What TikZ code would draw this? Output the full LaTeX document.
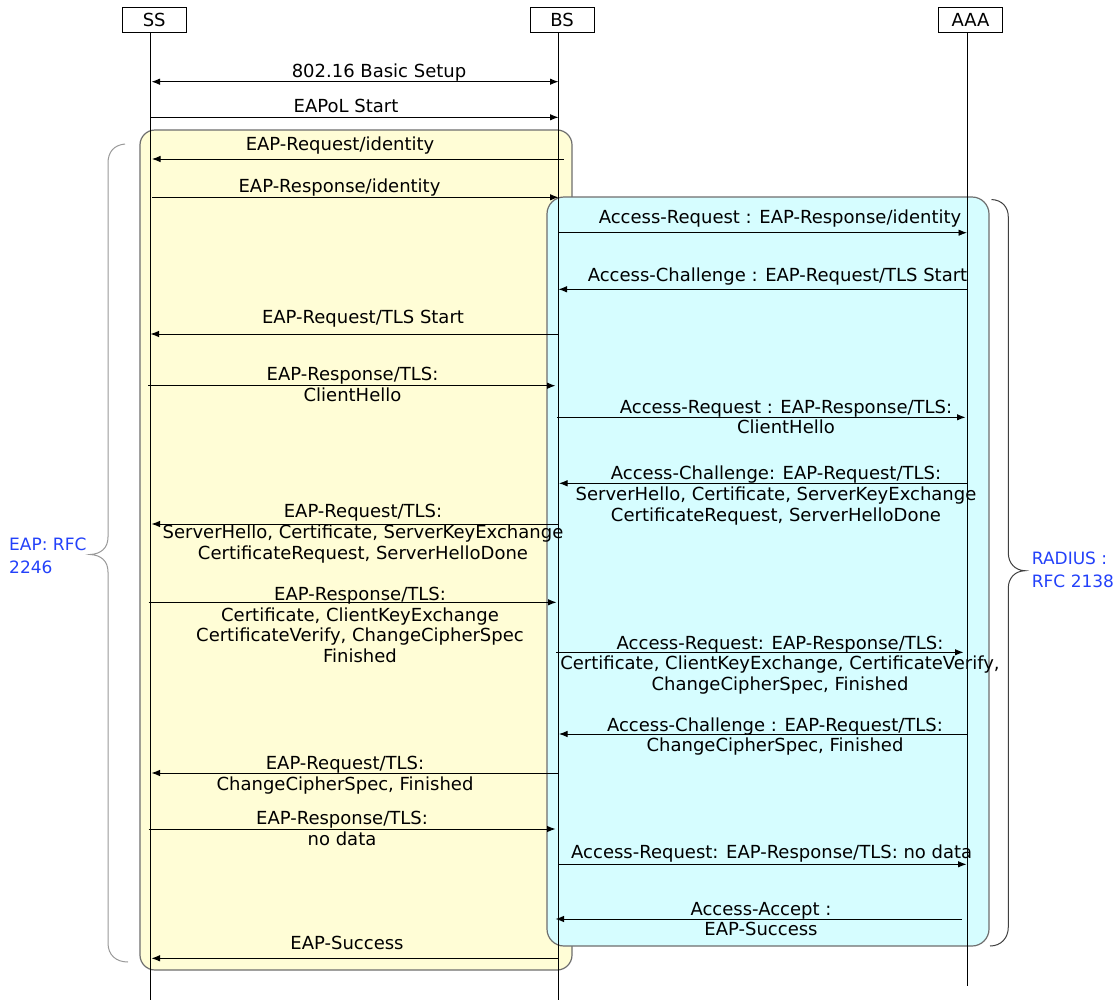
\documentclass[tikz,border=0pt]{standalone}
\usepackage{fontspec}
\setmainfont{DejaVu Sans}
\usetikzlibrary{arrows.meta}

\definecolor{eapfill}{RGB}{255,253,214}
\definecolor{radfill}{RGB}{214,253,255}
\definecolor{boxline}{RGB}{110,110,110}
\definecolor{rfcblue}{RGB}{35,65,250}

% one message: name, y, from x, to x, label x, baseline of the label's last line, label text
\newcommand{\seqmsg}[7]{%
  \coordinate (#1s) at (#3,#2);
  \coordinate (#1e) at (#4,#2);
  \draw[msg] (#1s) -- (#1e);
  \node[lbl] (#1t) at (#5,#6) {#7};
}

\begin{document}
\begin{tikzpicture}[x=1pt,y=-1pt,
  msg/.style={draw=black, line width=0.9pt, -{Latex[length=8.5pt,width=6.5pt]}},
  lbl/.style={anchor=base, align=center, inner sep=0pt, font={\fontsize{18}{20.7}\selectfont}},
  head/.style={draw, line width=0.9pt, fill=white, minimum width=64pt, minimum height=25pt, inner sep=0pt, font={\fontsize{18}{20}\selectfont}},
  life/.style={line width=1pt},
  brace/.style={line width=1pt},
  rfc/.style={anchor=base west, align=left, inner sep=0pt, text=rfcblue, font={\fontsize{17}{23.3}\selectfont}}]

\useasboundingbox[fill=white] (0,0) rectangle (1120,1002);

% protocol phases
\path[draw=boxline, fill=eapfill, line width=1.2pt, rounded corners=15pt] (140,130) rectangle (572,970);
\path[draw=boxline, fill=radfill, line width=1.2pt, rounded corners=17pt] (547,197) rectangle (989,946);

% braces
\draw[brace, draw=gray!80] (125,144) .. controls (114,145) and (108,152) .. (108,163) -- (108,537)
  .. controls (108,548) and (101,554) .. (90,554.5)
  .. controls (101,555) and (108,561) .. (108,572) -- (108,943)
  .. controls (108,955) and (116,962) .. (128,962);
\draw[brace, draw=black!75] (991.5,199.5) .. controls (1002,200) and (1008.3,207) .. (1008.3,217) -- (1008.3,553)
  .. controls (1008.3,563) and (1015,570.5) .. (1025,570.7)
  .. controls (1015,571) and (1008.3,578) .. (1008.3,588) -- (1008.3,927)
  .. controls (1008.3,938) and (1001,946) .. (990,946);

\node[rfc] (eaprfc) at (9,573.3) {EAP: RFC\\2246};
\node[rfc] (radrfc) at (1031.7,587.3) {RADIUS :\\RFC 2138};

% participants and lifelines
\node[head] (ss) at (154.2,19.8) {SS};
\node[head] (bs) at (562,19.8) {BS};
\node[head] (aaa) at (970.5,19.8) {AAA};
\coordinate (ssend) at (150.5,1000);
\coordinate (bsend) at (558.5,1000);
\coordinate (aaaend) at (967.5,986);
\draw[life] (ss.south -| ssend) -- (ssend);
\draw[life] (bs.south -| bsend) -- (bsend);
\draw[life] (aaa.south -| aaaend) -- (aaaend);

% messages
\coordinate (m1s) at (151.5,81.7);
\coordinate (m1e) at (558.5,81.7);
\draw[msg, {Latex[length=8.5pt,width=6.5pt]}-{Latex[length=8.5pt,width=6.5pt]}] (m1s) -- (m1e);
\node[lbl] (m1t) at (379,77.3) {802.16 Basic Setup};

\seqmsg{m2}{117.3}{150.5}{558.5}{346}{112.3}{EAPoL Start}
\seqmsg{m3}{159}{563.5}{152}{340}{150}{EAP-Request/identity}
\seqmsg{m4}{197.3}{152}{558.5}{339.5}{192.7}{EAP-Response/identity}
\seqmsg{m5}{232.7}{558.5}{967}{780}{223.3}{Access-Request : EAP-Response/identity}
\seqmsg{m6}{289.3}{967.5}{558.5}{777.5}{281.7}{Access-Challenge : EAP-Request/TLS Start}
\seqmsg{m7}{334}{558.5}{150.5}{363}{323.5}{EAP-Request/TLS Start}
\seqmsg{m8}{385.7}{148}{555.5}{352.5}{401.5}{EAP-Response/TLS:\\ClientHello}
\seqmsg{m9}{417.3}{557}{965.5}{786}{433.8}{Access-Request : EAP-Response/TLS:\\ClientHello}
\seqmsg{m10}{483.3}{967.5}{559}{776}{521}{Access-Challenge: EAP-Request/TLS:\\ServerHello, Certificate, ServerKeyExchange\\CertificateRequest, ServerHelloDone}
\seqmsg{m11}{524}{558.5}{151.5}{363}{559.2}{EAP-Request/TLS:\\ServerHello, Certificate, ServerKeyExchange\\CertificateRequest, ServerHelloDone}
\seqmsg{m12}{602.3}{148.5}{556.5}{360}{662.5}{EAP-Response/TLS:\\Certificate, ClientKeyExchange\\CertificateVerify, ChangeCipherSpec\\Finished}
\seqmsg{m13}{652.3}{556}{963.5}{780}{690.5}{Access-Request: EAP-Response/TLS:\\Certificate, ClientKeyExchange, CertificateVerify,\\ChangeCipherSpec, Finished}
\seqmsg{m14}{734}{967.5}{559}{775}{751.8}{Access-Challenge : EAP-Request/TLS:\\ChangeCipherSpec, Finished}
\seqmsg{m15}{773}{558.5}{151.5}{345}{790.2}{EAP-Request/TLS:\\ChangeCipherSpec, Finished}
\seqmsg{m16}{829}{148.5}{555.5}{342}{845.2}{EAP-Response/TLS:\\no data}
\seqmsg{m17}{864.3}{558.5}{966.5}{771.7}{858.5}{Access-Request: EAP-Response/TLS: no data}
\seqmsg{m18}{919}{962}{555.5}{761}{935.7}{Access-Accept :\\EAP-Success}
\seqmsg{m19}{958.3}{558.5}{151.5}{347}{949}{EAP-Success}

\end{tikzpicture}
\end{document}
